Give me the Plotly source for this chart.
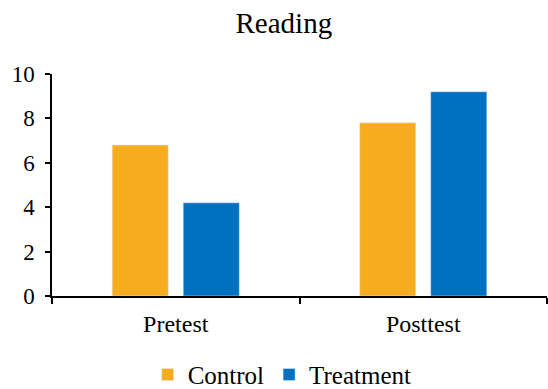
import plotly.graph_objects as go

categories = ["Pretest", "Posttest"]
control = [6.8, 7.8]
treatment = [4.2, 9.2]

FONT = "Times New Roman"

fig = go.Figure()
fig.add_trace(go.Bar(name="Control", x=categories, y=control, marker_color="#F6AC1E"))
fig.add_trace(go.Bar(name="Treatment", x=categories, y=treatment, marker_color="#0070C0"))

fig.update_layout(
    width=548, height=389,
    margin=dict(l=52, r=1, t=74, b=93, autoexpand=False),
    paper_bgcolor="white", plot_bgcolor="white",
    barmode="group", bargap=0.426, bargroupgap=0.21,
    font=dict(family=FONT, color="black", size=22),
    title=dict(text="Reading", x=0.518, xanchor="center", y=0.94, yanchor="middle",
               font=dict(family=FONT, size=29, color="black")),
    showlegend=True,
    legend=dict(orientation="h", x=0.465, xanchor="center", y=-0.355, yanchor="middle",
                font=dict(family=FONT, size=25, color="black"), itemwidth=30,
                tracegroupgap=0),
)
fig.update_xaxes(
    showline=True, linecolor="black", linewidth=1.5, automargin=False,
    ticks="outside", tickson="boundaries", ticklen=6, tickcolor="black", tickwidth=1.5,
    tickfont=dict(family=FONT, size=24), showgrid=False, ticklabelstandoff=5,
)
fig.update_yaxes(
    range=[0, 10], dtick=2, showline=True, linecolor="black", linewidth=1.5, automargin=False,
    ticks="outside", ticklen=5, tickcolor="black", tickwidth=1.5,
    tickfont=dict(family=FONT, size=23), showgrid=False, zeroline=False, ticklabelstandoff=6,
)

fig.write_html("out.html")
